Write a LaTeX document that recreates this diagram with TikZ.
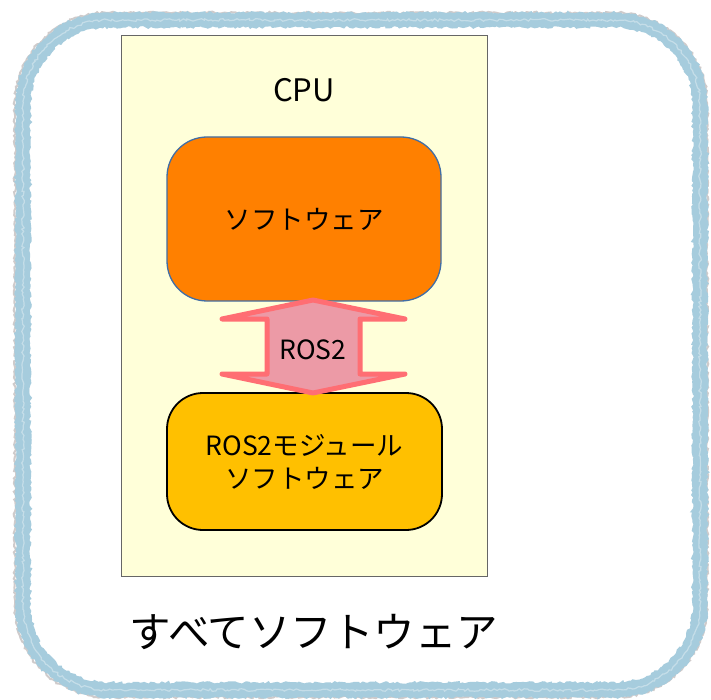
\documentclass[tikz,border=0pt]{standalone}
\usepackage{fontspec}
\setmainfont{Noto Sans CJK JP}
\usetikzlibrary{decorations.pathmorphing}
\definecolor{crayon}{RGB}{166,204,221}
\definecolor{crayonshade}{RGB}{150,140,140}
\definecolor{cpufill}{RGB}{255,255,217}
\definecolor{softfill}{RGB}{255,128,0}
\definecolor{softedge}{RGB}{65,110,165}
\definecolor{modfill}{RGB}{255,192,0}
\definecolor{arrowfill}{RGB}{236,154,166}
\definecolor{arrowedge}{RGB}{255,110,115}
% rounded rectangle built from arcs (x0,y0,x1,y1,radius), y grows downward
\newcommand\frameloop[5]{%
  (#1,#2+#5) arc[start angle=180, end angle=270, radius=#5]
  -- (#3-#5,#2) arc[start angle=270, end angle=360, radius=#5]
  -- (#3,#4-#5) arc[start angle=0, end angle=90, radius=#5]
  -- (#1+#5,#4) arc[start angle=90, end angle=180, radius=#5] -- cycle}
\tikzset{
  cpubox/.style={draw=black!60, line width=1pt, fill=cpufill},
  softbox/.style={draw=softedge, line width=1.3pt, fill=softfill, rounded corners=40pt,
    minimum width=274pt, minimum height=164pt, align=center},
  modbox/.style={draw=black, line width=1.8pt, fill=modfill, rounded corners=36pt,
    minimum width=275pt, minimum height=137pt, align=center},
  label/.style={font=\fontsize{26.5}{33}\selectfont, align=center, inner sep=0pt},
  biglabel/.style={font=\fontsize{41.5}{46}\selectfont, inner sep=0pt},
  rough/.style={decorate, decoration={random steps, segment length=2.5pt, amplitude=1.3pt}},
}
\begin{document}
\begin{tikzpicture}[x=1pt, y=-1pt]
  \useasboundingbox (0,0) rectangle (711,700);
  \fill[white] (0,0) rectangle (711,700);

  % hand-drawn outer frame
  \draw[crayonshade, opacity=0.45, line width=2pt, rough] \frameloop{15}{13}{707}{697}{92};
  \draw[crayon, line width=12pt] \frameloop{23}{20}{700}{690}{85};
  \draw[crayon, line width=3pt, rough] \frameloop{17}{14}{706}{696}{91};
  \draw[crayon, line width=3pt, rough] \frameloop{29}{26}{694}{684}{79};
  \draw[white, opacity=0.35, line width=1.2pt, rough] \frameloop{23}{20}{700}{690}{85};

  % CPU area
  \node[cpubox, minimum width=366pt, minimum height=540pt, inner sep=0pt] (cpu) at (304,306) {};
  \node[font=\fontsize{31}{33}\selectfont, inner sep=0pt] (cputitle) at (304,90) {CPU};

  % software blocks
  \node[softbox] (soft) at (304,219) {};
  \node[label] (softtext) at (soft.center) {ソフトウェア};
  \node[modbox] (mod) at (304.5,461.5) {};
  \node[label] (modtext) at (mod.center) {ROS2モジュール\\ソフトウェア};

  % two-way ROS2 link
  \coordinate (tipT) at (313,300);
  \coordinate (tipB) at (313,393);
  \draw[arrowedge, fill=arrowfill, line width=5pt, line join=round, line cap=round]
    (tipT) -- (405,319) -- (360,319) -- (360,374) -- (405,374) -- (tipB)
    -- (222,374) -- (267,374) -- (267,319) -- (222,319) -- cycle;
  \node[label] (link) at (313,350) {ROS2};

  % caption
  \node[biglabel] (caption) at (314,632) {すべてソフトウェア};
\end{tikzpicture}
\end{document}
